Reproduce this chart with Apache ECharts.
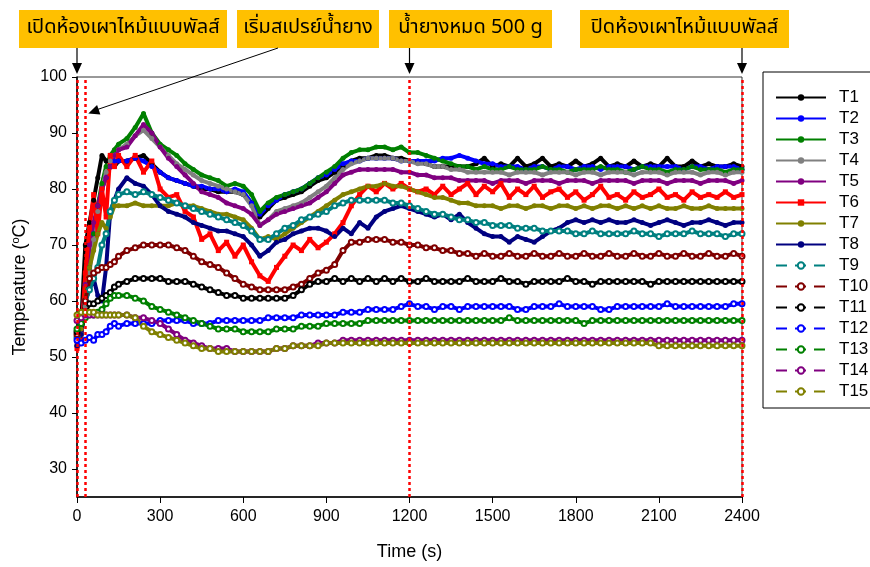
<!DOCTYPE html>
<html>
<head>
<meta charset="utf-8">
<script src="https://cdn.jsdelivr.net/npm/echarts@6/dist/echarts.min.js"></script>
<style>
  html, body { margin: 0; padding: 0; background: #fff; }
  #chart { width: 870px; height: 567px; }
</style>
</head>
<body>
<div id="chart"></div>
<script>
// Sampling times (s)
const times = [
  0, 15, 30, 45, 60, 75, 90, 105, 120, 135, 150,
  180, 210, 240, 270, 300, 330, 360, 390, 420, 450,
  480, 510, 540, 570, 600, 630, 660, 690, 720, 750,
  780, 810, 840, 870, 900, 930, 960, 990, 1020, 1050,
  1080, 1110, 1140, 1170, 1200, 1230, 1260, 1290, 1320, 1350,
  1380, 1410, 1440, 1470, 1500, 1530, 1560, 1590, 1620, 1650,
  1680, 1710, 1740, 1770, 1800, 1830, 1860, 1890, 1920, 1950,
  1980, 2010, 2040, 2070, 2100, 2130, 2160, 2190, 2220, 2250,
  2280, 2310, 2340, 2370, 2400
];

// Thermocouple temperatures (°C)
const T1 = [
  52, 56, 70, 74, 78, 82, 86, 85, 84, 84, 85,
  85, 85.5, 86, 84.5, 83, 82, 81.5, 81, 80.5, 80,
  80, 79.5, 79.5, 79.5, 79, 77.5, 75, 76.5, 78, 78.5,
  79, 79.5, 80.5, 81.5, 82, 83, 84, 85, 85.5, 85.5,
  86, 86, 85.5, 85.5, 85, 85, 84.5, 84, 84, 84,
  84, 84, 84.5, 85.5, 84, 84.5, 84, 85.5, 84, 84.5,
  85.5, 84, 84.5, 84, 85, 84, 84.5, 85.5, 84, 84.5,
  84, 85, 84, 84.5, 84, 85.5, 84, 84, 85, 84,
  84.5, 84, 84, 84.5, 84
];
const T2 = [
  52, 54, 60, 66, 72, 77, 80, 82, 84, 85, 85,
  85, 85.5, 85, 84, 83, 82, 81.5, 81, 80.5, 80.5,
  80, 80, 79.5, 80, 79.5, 77.5, 75.5, 77, 78, 79,
  79.5, 80, 81, 82, 82.5, 83.5, 84.5, 85, 85, 85.5,
  85.5, 85.5, 85.5, 85, 85, 85, 85, 85, 85.5, 85.5,
  86, 85.5, 85, 84.5, 84.5, 84, 84, 84, 83.5, 84,
  84, 83.5, 84, 84, 83.5, 84, 84, 83.5, 84, 84,
  84, 83.5, 84, 84, 84, 84, 84, 83.5, 84, 84,
  83.5, 84, 84, 84, 83.5
];
const T3 = [
  52, 54, 60, 66, 72, 77, 81, 84, 86, 87, 88,
  89, 91, 93.5, 90, 88, 87, 86, 84.5, 83.5, 82.5,
  82, 81.5, 80.5, 81, 80.5, 79, 76, 77.5, 78.5, 79,
  79.5, 80, 81, 82, 83, 84, 85.5, 86.5, 87, 87,
  87.5, 87.5, 87, 87.5, 86.5, 86.5, 86, 85.5, 85, 84.5,
  84, 84, 83.5, 84, 83.5, 83.5, 84, 83.5, 83.5, 83.5,
  84, 83.5, 83.5, 83, 83.5, 83.5, 83.5, 84, 83.5, 83.5,
  83, 83.5, 84, 83.5, 83.5, 83, 83.5, 83.5, 84, 83.5,
  83.5, 83.5, 83, 83.5, 83.5
];
const T4 = [
  52, 54, 59, 65, 71, 76, 80, 83, 85, 86, 87,
  88, 89.5, 90.5, 89, 87.5, 86, 84.5, 83.5, 82.5, 81.5,
  81, 80.5, 80, 79.5, 79, 77, 73.5, 74.5, 76, 76.5,
  77, 77.5, 78.5, 79.5, 80.5, 82, 83.5, 84.5, 85, 85.5,
  85.5, 85.5, 85.5, 85, 85, 84.5, 84.5, 84, 84, 83.5,
  83.5, 83, 83, 83, 83, 83, 82.5, 83, 83, 83,
  82.5, 83, 83, 83, 82.5, 83, 83, 82.5, 83, 83,
  83, 82.5, 83, 83, 83, 82.5, 83, 83, 83, 82.5,
  83, 83, 82.5, 83, 83
];
const T5 = [
  52.5, 55, 63, 70, 74, 77, 80, 82, 84, 86, 87,
  87.5, 89.5, 91.5, 90, 87.5, 85.5, 84, 82.5, 81, 79.5,
  79, 78.5, 77.5, 77, 76.5, 75.5, 73.5, 74.5, 75.5, 76,
  76.5, 77, 77.5, 78.5, 79.5, 81, 82.5, 83, 83.5, 83.5,
  83.5, 83.5, 83.5, 83, 83, 82.5, 82.5, 82, 82, 82,
  81.5, 81.5, 81.5, 81.5, 81, 81.5, 81.5, 81.5, 81, 81.5,
  81.5, 81.5, 81, 81.5, 81.5, 81.5, 81, 81.5, 81.5, 81.5,
  81.5, 81, 81.5, 81.5, 81.5, 81, 81.5, 81.5, 81.5, 81,
  81.5, 81.5, 81.5, 81, 81.5
];
const T6 = [
  51.5, 53, 65, 73, 79, 72, 80, 75, 86, 84, 86,
  84, 86, 83, 85, 80, 78.5, 79, 76, 75, 71,
  72, 69, 70.5, 68, 70, 67, 64.5, 63.5, 66, 68,
  70, 69, 71, 69.5, 70.5, 72, 74, 77, 79, 80.5,
  79.5, 81, 80, 81, 80, 79.5, 80, 79, 80.5, 79,
  80, 81, 79, 80.5, 79.5, 81, 78.5, 80, 79, 80.5,
  78.5, 79.5, 80, 78.5, 79.5, 78, 79, 80.5, 78.5, 79,
  78, 79.5, 78.5, 79, 80, 78.5, 79, 78, 79.5, 78.5,
  79, 78.5, 79.5, 78.5, 79
];
const T7 = [
  53, 55, 60, 66, 69, 72, 74, 73, 75, 77, 77,
  77, 77.5, 77, 77, 77, 77, 77.5, 77, 77, 76.5,
  76, 75.5, 75.5, 75, 74.5, 73, 71, 71.5, 71, 72,
  73, 74, 75, 76, 77, 78, 79, 79.5, 80, 80.5,
  80.5, 81, 80.5, 80.5, 80, 79.5, 79, 78.5, 78.5, 78,
  77.5, 77.5, 77, 77, 77, 76.5, 77, 77, 76.5, 77,
  77, 76.5, 77, 77, 76.5, 77, 76.5, 77, 77, 76.5,
  77, 76.5, 77, 76.5, 77, 76.5, 76.5, 77, 76.5, 76.5,
  77, 76.5, 76.5, 76.5, 76.5
];
const T8 = [
  52, 54, 60, 62, 64, 61, 60, 66, 76, 78, 80,
  82, 81, 80.5, 79, 77, 76, 75.5, 75, 74, 73.5,
  73, 72.5, 72.5, 72, 71.5, 70, 68, 69, 70.5, 71,
  72, 72.5, 73, 73, 72.5, 71.5, 73, 72, 74, 73,
  75, 76, 76.5, 77, 76.5, 76, 75.5, 75, 75.5, 74.5,
  75.5, 74, 73, 72, 71.5, 71.5, 70.5, 71.5, 71, 70.5,
  71.5, 72.5, 73, 74, 74.5, 74, 74.5, 74, 74.5, 74,
  74, 74.5, 74, 73.5, 74, 74.5, 74, 73.5, 74, 74,
  74.5, 74, 73.5, 74, 74
];
const T9 = [
  53.5, 56, 60, 62, 64, 66, 70, 72, 76, 78, 79,
  79.5, 79, 79.5, 79, 78.5, 78, 77.5, 77, 76.5, 76,
  75.5, 75, 74.5, 74, 73.5, 72.5, 71, 71, 72, 73,
  73.5, 74.5, 75, 75.5, 76, 77, 77.5, 78, 78, 78,
  78, 78, 77.5, 77.5, 77, 76.5, 76, 75.5, 75.5, 75,
  74.5, 74.5, 74, 74, 73.5, 73.5, 73.5, 73, 73, 73,
  72.5, 72.5, 72.5, 72.5, 72, 72, 72.5, 72, 72, 72,
  72, 72.5, 72, 72, 71.5, 72, 72, 72, 72.5, 72,
  72, 72, 71.5, 72, 72
];
const T10 = [
  54, 56, 60, 64, 65, 65.5, 66, 66, 66.5, 67, 68,
  69, 69.5, 70, 70, 70, 70, 69.5, 69, 68, 67,
  66.5, 66, 65, 64, 63, 62.5, 62, 62, 62, 62,
  62.5, 63, 64, 65, 65.5, 66.5, 69, 70.5, 70.5, 71,
  71, 71, 70.5, 70.5, 70, 70, 69.5, 69.5, 69, 69,
  68.5, 68.5, 68, 68.5, 68, 68, 68.5, 68, 68, 68.5,
  68, 68, 68.5, 68, 68, 68.5, 68, 68, 68.5, 68,
  68, 68.5, 68, 68, 68.5, 68, 68, 68.5, 68, 68,
  68.5, 68, 68, 68.5, 68
];
const T11 = [
  54.5, 56, 58, 59.5, 59.5, 60, 60.5, 61, 61.5, 62.5, 63,
  63.5, 64, 64, 64, 64, 63.5, 63.5, 63.5, 63, 62.5,
  62, 61.5, 61, 61, 60.5, 60.5, 60.5, 60.5, 60.5, 60.5,
  61, 62, 63, 63.5, 63.5, 64, 63.5, 64, 63.5, 64,
  63.5, 64, 63.5, 64, 63.5, 63.5, 64, 63.5, 63.5, 63.5,
  63.5, 64, 63.5, 63.5, 63.5, 64, 63.5, 63.5, 63, 63.5,
  63.5, 63.5, 63.5, 64, 63.5, 63.5, 63, 63.5, 63.5, 63.5,
  63.5, 63.5, 63.5, 63, 63.5, 63.5, 63.5, 63.5, 63.5, 63.5,
  63.5, 63.5, 63.5, 63.5, 63.5
];
const T12 = [
  53, 52.5, 53, 53.5, 53, 54, 54, 54.5, 55.5, 56, 55.5,
  56, 56, 56, 56, 56.5, 56.5, 56.5, 56.5, 56, 56,
  56, 56.5, 56.5, 56.5, 56.5, 56.5, 56.5, 57, 57, 57,
  57, 57.5, 57.5, 57.5, 57.5, 57.5, 58, 58, 58, 58.5,
  58.5, 58.5, 58.5, 59, 59.5, 59, 59, 58.5, 59, 59,
  58.5, 59, 59, 59, 59, 59, 59, 58.5, 58.5, 59,
  59, 59, 59.5, 59, 59, 59, 59, 58.5, 58.5, 59,
  59, 59, 59, 59, 59, 59.5, 59, 59, 59, 59,
  59, 59, 59, 59.5, 59.5
];
const T13 = [
  55, 56, 57, 57.5, 57.5, 58, 58.5, 59.5, 60.5, 61, 61,
  61, 60.5, 60, 59, 58.5, 58, 57.5, 57, 56.5, 56,
  55.5, 55, 55, 55, 54.5, 54.5, 54.5, 54.5, 55, 55,
  55, 55.5, 55.5, 55.5, 56, 56, 56, 56, 56, 56.5,
  56.5, 56.5, 56.5, 56.5, 56.5, 56.5, 56.5, 56.5, 56.5, 56.5,
  56.5, 56.5, 56.5, 56.5, 56.5, 56.5, 57, 56.5, 56.5, 56.5,
  56.5, 56.5, 56.5, 56.5, 56.5, 56, 56.5, 56.5, 56.5, 56.5,
  56.5, 56.5, 56.5, 56.5, 56.5, 56.5, 56.5, 56.5, 56.5, 56.5,
  56.5, 56.5, 56.5, 56.5, 56.5
];
const T14 = [
  56.5, 57, 57.5, 57.5, 57.5, 57.5, 57.5, 57.5, 57.5, 57.5, 57.5,
  57.5, 57, 57, 56.5, 56, 55, 54, 53, 52.5, 52,
  51.5, 51.5, 51.5, 51, 51, 51, 51, 51, 51.5, 51.5,
  52, 52, 52, 52.5, 52.5, 52.5, 53, 53, 53, 53,
  53, 53, 53, 53, 53, 53, 53, 53, 53, 53,
  53, 53, 53, 53, 53, 53, 53, 53, 53, 53,
  53, 53, 53, 53, 53, 53, 53, 53, 53, 53,
  53, 53, 53, 53, 53, 53, 53, 53, 53, 53,
  53, 53, 53, 53, 53
];
const T15 = [
  57.5, 58, 58, 58, 58, 57.5, 57.5, 57.5, 57.5, 57.5, 57.5,
  57.5, 57, 55.5, 54.5, 54, 53.5, 53, 52.5, 52, 51.5,
  51.5, 51, 51, 51, 51, 51, 51, 51, 51.5, 51.5,
  52, 52, 52, 52, 52.5, 52.5, 52.5, 52.5, 52.5, 52.5,
  52.5, 52.5, 52.5, 52.5, 52.5, 52.5, 52.5, 52.5, 52.5, 52.5,
  52.5, 52.5, 52.5, 52.5, 52.5, 52.5, 52.5, 52.5, 52.5, 52.5,
  52.5, 52.5, 52.5, 52.5, 52.5, 52.5, 52.5, 52.5, 52.5, 52.5,
  52.5, 52.5, 52.5, 52.5, 52, 52, 52, 52, 52, 52,
  52, 52, 52, 52, 52
];

const seriesNames = ['T1', 'T2', 'T3', 'T4', 'T5', 'T6', 'T7', 'T8', 'T9', 'T10', 'T11', 'T12', 'T13', 'T14', 'T15'];
const seriesValues = [T1, T2, T3, T4, T5, T6, T7, T8, T9, T10, T11, T12, T13, T14, T15];

// Axis ticks
const xTicks = [0, 300, 600, 900, 1200, 1500, 1800, 2100, 2400];
const yTicks = [30, 40, 50, 60, 70, 80, 90, 100];

// Process events (s) and their captions
const eventTimes = [0, 30, 1200, 2400];
const eventLabels = ['เปิดห้องเผาไหม้แบบพัลส์', 'เริ่มสเปรย์น้ำยาง', 'น้ำยางหมด 500 g', 'ปิดห้องเผาไหม้แบบพัลส์'];

// ---- styling ----
const palette = ['#000000', '#0000ff', '#008000', '#808080', '#800080', '#ff0000', '#808000', '#000080',
                 '#008080', '#800000', '#000000', '#0000ff', '#008000', '#800080', '#808000'];
const latin = "'Liberation Sans', Arial, sans-serif";
const narrow = "'Liberation Sans Narrow', 'Liberation Sans', Arial, sans-serif";
const thai = "'Noto Sans Thai', Tahoma, 'Leelawadee UI', 'Noto Sans', sans-serif";
// caption boxes: [left, width]
const boxLayout = [[19, 208], [237, 142], [389, 163], [580, 209]];
const boxTop = 10, boxH = 38;

const chart = echarts.init(document.getElementById('chart'), null, { renderer: 'canvas' });

const series = seriesNames.map((name, i) => {
  const dashed = i >= 8;
  return {
    name,
    type: 'line',
    data: times.map((t, k) => [t, seriesValues[i][k]]),
    color: palette[i],
    symbol: dashed ? 'emptyCircle' : (name === 'T6' ? 'rect' : 'circle'),
    symbolSize: 5,
    showSymbol: true,
    lineStyle: { width: 4, color: palette[i] },
    itemStyle: { color: palette[i] },
    emphasis: { disabled: true },
    animation: false,
    z: 2
  };
});

// red dotted event markers
series.push({
  name: 'events',
  type: 'line',
  data: [],
  z: 5,
  markLine: {
    silent: true,
    symbol: 'none',
    animation: false,
    label: { show: false },
    lineStyle: { color: '#ff0000', type: [3, 3], width: 2.5 },
    data: eventTimes.map(t => ({ xAxis: t }))
  }
});

chart.setOption({
  animation: false,
  backgroundColor: '#fff',
  grid: { left: 77, top: 77, right: 128, bottom: 70, show: true, borderColor: '#333', borderWidth: 1, backgroundColor: 'transparent' },
  xAxis: {
    type: 'value', min: 0, max: 2400, interval: 300,
    name: 'Time (s)', nameLocation: 'middle', nameGap: 46,
    nameTextStyle: { fontFamily: narrow, fontSize: 18, color: '#000' },
    axisLine: { lineStyle: { color: '#000', width: 1.5 } },
    axisTick: { inside: false, length: 6, customValues: xTicks, lineStyle: { color: '#000' } },
    axisLabel: { fontFamily: narrow, fontSize: 16, color: '#000', margin: 12, customValues: xTicks, formatter: v => String(v) },
    splitLine: { show: false }
  },
  yAxis: {
    type: 'value', min: 25, max: 100,
    name: 'Temperature ({sup|o}C)', nameLocation: 'middle', nameGap: 47,
    nameTextStyle: { fontFamily: latin, fontSize: 18, color: '#000', rich: { sup: { fontFamily: latin, fontSize: 11, verticalAlign: 'top', padding: [0, 0, 8, 0] } } },
    axisLine: { show: true, lineStyle: { color: '#000', width: 1.5 } },
    axisTick: { show: true, inside: false, length: 5, customValues: yTicks, lineStyle: { color: '#000' } },
    axisLabel: { fontFamily: latin, fontSize: 16, color: '#000', margin: 10, customValues: yTicks },
    splitLine: { show: false }
  },
  legend: {
    orient: 'vertical', left: 763, top: 72,
    padding: [17, 60, 8, 12],
    itemWidth: 50, itemHeight: 8, itemGap: 4,
    borderColor: '#000', borderWidth: 1,
    backgroundColor: '#fff',
    textStyle: { fontFamily: latin, fontSize: 17, color: '#000', padding: [0, 0, 0, 8] },
    data: seriesNames.map((n, i) => i >= 8 ? { name: n, lineStyle: { type: [11, 8], width: 2 } } : { name: n, lineStyle: { width: 2 } })
  },
  series
});

// Captions with arrows pointing at the event times
function arrowHead(x1, y1, x2, y2, color) {
  const ang = Math.atan2(y2 - y1, x2 - x1);
  const len = 11, half = 5;
  const bx = x2 - len * Math.cos(ang), by = y2 - len * Math.sin(ang);
  const px = -Math.sin(ang) * half, py = Math.cos(ang) * half;
  return {
    type: 'polygon', silent: true, z: 20,
    shape: { points: [[x2, y2], [bx + px, by + py], [bx - px, by - py]] },
    style: { fill: color }
  };
}
const graphics = [];
boxLayout.forEach(([left, w], i) => {
  graphics.push({
    type: 'rect', silent: true, z: 20,
    shape: { x: left, y: boxTop, width: w, height: boxH },
    style: { fill: '#ffc000' }
  });
  graphics.push({
    type: 'text', silent: true, z: 21,
    x: left + w / 2, y: boxTop + boxH / 2,
    style: { text: eventLabels[i], font: '20px ' + thai, fill: '#000', align: 'center', verticalAlign: 'middle' }
  });
});
const yTop = chart.convertToPixel({ yAxisIndex: 0 }, 100);
// straight arrows: caption 1 -> t=0, caption 3 -> t=1200, caption 4 -> t=2400
[[0, 0], [2, 2], [3, 3]].forEach(([bi, ei]) => {
  const x = chart.convertToPixel({ xAxisIndex: 0 }, eventTimes[ei]);
  const y1 = boxTop + boxH, y2 = yTop - 3;
  graphics.push({ type: 'line', silent: true, z: 20, shape: { x1: x, y1, x2: x, y2: y2 - 8 }, style: { stroke: '#000', lineWidth: 1.2 } });
  graphics.push(arrowHead(x, y1, x, y2, '#000'));
});
// slanted arrow: caption 2 -> spray start line
{
  const xs = chart.convertToPixel({ xAxisIndex: 0 }, eventTimes[1]);
  const x1 = 278, y1 = boxTop + boxH;
  const x2 = xs + 3, y2 = chart.convertToPixel({ yAxisIndex: 0 }, 93.5);
  graphics.push({ type: 'line', silent: true, z: 20, shape: { x1, y1, x2: x2 + 8, y2: y2 - 3.5 }, style: { stroke: '#000', lineWidth: 1 } });
  graphics.push(arrowHead(x1, y1, x2, y2, '#000'));
}
chart.setOption({ graphic: graphics });
</script>
</body>
</html>
